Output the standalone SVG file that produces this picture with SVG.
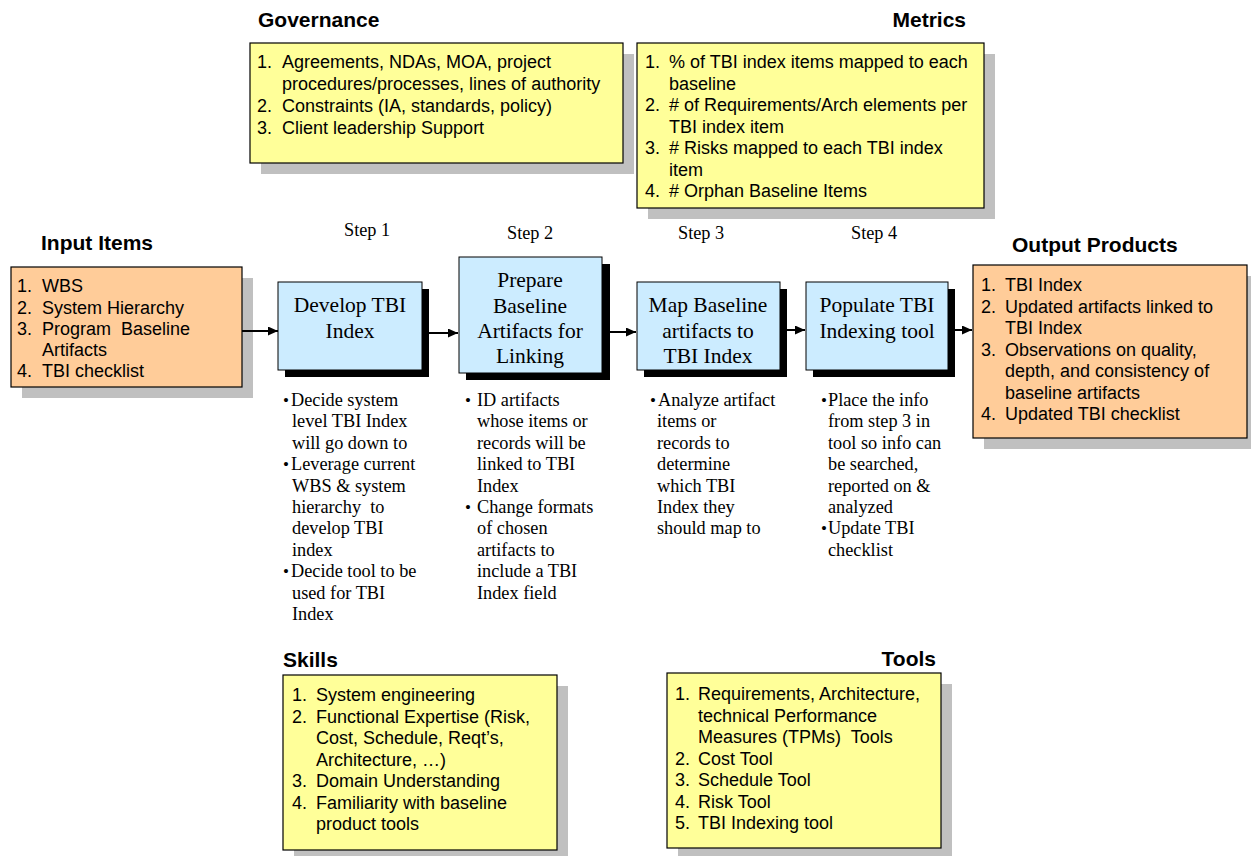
<svg xmlns="http://www.w3.org/2000/svg" width="1251" height="856" viewBox="0 0 1251 856">
<style>
.title{font-family:"Liberation Sans",Arial,sans-serif;font-weight:bold;font-size:21px;fill:#000}
.list{font-family:"Liberation Sans",Arial,sans-serif;font-size:18px;fill:#000}
.step{font-family:"Liberation Serif","Times New Roman",serif;font-size:21.5px;fill:#000;text-anchor:middle}
.lbl{font-family:"Liberation Serif","Times New Roman",serif;font-size:18.3px;fill:#000}
.bul{font-family:"Liberation Serif","Times New Roman",serif;font-size:17px;fill:#000}
.sh{fill:#c0c0c0}
.shb{fill:#000}
.yel{fill:#ffff99;stroke:#000;stroke-width:1.2}
.pea{fill:#ffcc99;stroke:#000;stroke-width:1.2}
.blu{fill:#ccecff;stroke:#000;stroke-width:1}
.con{stroke:#000;stroke-width:2;fill:none}
</style>
<defs>
<marker id="ah" markerWidth="10" markerHeight="9" refX="10" refY="4.5" orient="auto" markerUnits="userSpaceOnUse">
<path d="M0,0 L10,4.5 L0,9 Z" fill="#000"/>
</marker>
</defs>
<rect width="1251" height="856" fill="#fff"/>

<g id="governance">
<text class="title" x="258" y="27">Governance</text>
<rect class="sh" x="261" y="54" width="373" height="120"/>
<rect class="yel" x="250" y="43" width="373" height="120"/>
<text class="list" x="257" y="68">1.</text><text class="list" x="282" y="68">Agreements, NDAs, MOA, project</text>
<text class="list" x="282" y="90">procedures/processes, lines of authority</text>
<text class="list" x="257" y="112">2.</text><text class="list" x="282" y="112">Constraints (IA, standards, policy)</text>
<text class="list" x="257" y="134">3.</text><text class="list" x="282" y="134">Client leadership Support</text>
</g>

<g id="metrics">
<text class="title" x="966" y="27" text-anchor="end">Metrics</text>
<rect class="sh" x="648" y="54" width="347" height="165"/>
<rect class="yel" x="637" y="43" width="347" height="165"/>
<text class="list" x="645" y="68">1.</text><text class="list" x="669" y="68">% of TBI index items mapped to each</text>
<text class="list" x="669" y="89.5">baseline</text>
<text class="list" x="645" y="111">2.</text><text class="list" x="669" y="111"># of Requirements/Arch elements per</text>
<text class="list" x="669" y="132.5">TBI index item</text>
<text class="list" x="645" y="154">3.</text><text class="list" x="669" y="154"># Risks mapped to each TBI index</text>
<text class="list" x="669" y="175.5">item</text>
<text class="list" x="645" y="197">4.</text><text class="list" x="669" y="197"># Orphan Baseline Items</text>
</g>

<g id="input">
<text class="title" x="41" y="250">Input Items</text>
<rect class="sh" x="22" y="278" width="231" height="120"/>
<rect class="pea" x="11" y="267" width="231" height="120"/>
<text class="list" x="17" y="292">1.</text><text class="list" x="42" y="292">WBS</text>
<text class="list" x="17" y="313.5">2.</text><text class="list" x="42" y="313.5">System Hierarchy</text>
<text class="list" x="17" y="335">3.</text><text class="list" x="42" y="335" xml:space="preserve">Program  Baseline</text>
<text class="list" x="42" y="356">Artifacts</text>
<text class="list" x="17" y="377">4.</text><text class="list" x="42" y="377">TBI checklist</text>
</g>

<g id="output">
<text class="title" x="1012" y="252">Output Products</text>
<rect class="sh" x="984" y="276" width="274" height="173"/>
<rect class="pea" x="973" y="265" width="274" height="173"/>
<text class="list" x="981" y="291">1.</text><text class="list" x="1005" y="291">TBI Index</text>
<text class="list" x="981" y="312.5">2.</text><text class="list" x="1005" y="312.5">Updated artifacts linked to</text>
<text class="list" x="1005" y="334">TBI Index</text>
<text class="list" x="981" y="355.5">3.</text><text class="list" x="1005" y="355.5">Observations on quality,</text>
<text class="list" x="1005" y="377">depth, and consistency of</text>
<text class="list" x="1005" y="398.5">baseline artifacts</text>
<text class="list" x="981" y="420">4.</text><text class="list" x="1005" y="420">Updated TBI checklist</text>
</g>

<g id="step1">
<text class="lbl" x="344" y="236">Step 1</text>
<rect class="shb" x="285" y="289" width="144" height="88"/>
<rect class="blu" x="278" y="282" width="144" height="88"/>
<text class="step" x="350" y="312">Develop TBI</text>
<text class="step" x="350" y="338">Index</text>
<text class="bul" x="283" y="406">•</text>
<text class="lbl" x="291" y="406">Decide system</text>
<text class="lbl" x="292" y="427.4">level TBI Index</text>
<text class="lbl" x="292" y="448.8">will go down to</text>
<text class="bul" x="283" y="470.2">•</text>
<text class="lbl" x="291" y="470.2">Leverage current</text>
<text class="lbl" x="292" y="491.6">WBS &amp; system</text>
<text class="lbl" x="292" y="513" xml:space="preserve">hierarchy  to</text>
<text class="lbl" x="292" y="534.4">develop TBI</text>
<text class="lbl" x="292" y="555.8">index</text>
<text class="bul" x="283" y="577.2">•</text>
<text class="lbl" x="291" y="577.2">Decide tool to be</text>
<text class="lbl" x="292" y="598.6">used for TBI</text>
<text class="lbl" x="292" y="620">Index</text>
</g>

<g id="step2">
<text class="lbl" x="507" y="239">Step 2</text>
<rect class="shb" x="466" y="264" width="144" height="116"/>
<rect class="blu" x="459" y="257" width="143" height="116"/>
<text class="step" x="530" y="287">Prepare</text>
<text class="step" x="530" y="313">Baseline</text>
<text class="step" x="530" y="338">Artifacts for</text>
<text class="step" x="530" y="363">Linking</text>
<text class="bul" x="465" y="406">•</text>
<text class="lbl" x="477" y="406">ID artifacts</text>
<text class="lbl" x="477" y="427.4">whose items or</text>
<text class="lbl" x="477" y="448.8">records will be</text>
<text class="lbl" x="477" y="470.2">linked to TBI</text>
<text class="lbl" x="477" y="491.6">Index</text>
<text class="bul" x="465" y="513">•</text>
<text class="lbl" x="477" y="513">Change formats</text>
<text class="lbl" x="477" y="534.4">of chosen</text>
<text class="lbl" x="477" y="555.8">artifacts to</text>
<text class="lbl" x="477" y="577.2">include a TBI</text>
<text class="lbl" x="477" y="598.6">Index field</text>
</g>

<g id="step3">
<text class="lbl" x="678" y="239">Step 3</text>
<rect class="shb" x="644" y="289" width="143" height="88"/>
<rect class="blu" x="637" y="282" width="143" height="88"/>
<text class="step" x="708" y="312">Map Baseline</text>
<text class="step" x="708" y="338">artifacts to</text>
<text class="step" x="708" y="363">TBI Index</text>
<text class="bul" x="650" y="406">•</text>
<text class="lbl" x="658" y="406">Analyze artifact</text>
<text class="lbl" x="657" y="427.4">items or</text>
<text class="lbl" x="657" y="448.8">records to</text>
<text class="lbl" x="657" y="470.2">determine</text>
<text class="lbl" x="657" y="491.6">which TBI</text>
<text class="lbl" x="657" y="513">Index they</text>
<text class="lbl" x="657" y="534.4">should map to</text>
</g>

<g id="step4">
<text class="lbl" x="851" y="239">Step 4</text>
<rect class="shb" x="813" y="289" width="142" height="88"/>
<rect class="blu" x="806" y="282" width="142" height="88"/>
<text class="step" x="877" y="312">Populate TBI</text>
<text class="step" x="877" y="338">Indexing tool</text>
<text class="bul" x="821" y="406">•</text>
<text class="lbl" x="828" y="406">Place the info</text>
<text class="lbl" x="828" y="427.4">from step 3 in</text>
<text class="lbl" x="828" y="448.8">tool so info can</text>
<text class="lbl" x="828" y="470.2">be searched,</text>
<text class="lbl" x="828" y="491.6">reported on &amp;</text>
<text class="lbl" x="828" y="513">analyzed</text>
<text class="bul" x="821" y="534.4">•</text>
<text class="lbl" x="828" y="534.4">Update TBI</text>
<text class="lbl" x="828" y="555.8">checklist</text>
</g>

<g id="skills">
<text class="title" x="283" y="667">Skills</text>
<rect class="sh" x="294" y="686" width="274" height="175"/>
<rect class="yel" x="283" y="675" width="274" height="175"/>
<text class="list" x="292" y="701">1.</text><text class="list" x="316" y="701">System engineering</text>
<text class="list" x="292" y="722.5">2.</text><text class="list" x="316" y="722.5">Functional Expertise (Risk,</text>
<text class="list" x="316" y="744">Cost, Schedule, Reqt’s,</text>
<text class="list" x="316" y="765.5">Architecture, …)</text>
<text class="list" x="292" y="787">3.</text><text class="list" x="316" y="787">Domain Understanding</text>
<text class="list" x="292" y="808.5">4.</text><text class="list" x="316" y="808.5">Familiarity with baseline</text>
<text class="list" x="316" y="830">product tools</text>
</g>

<g id="tools">
<text class="title" x="936" y="666" text-anchor="end">Tools</text>
<rect class="sh" x="678" y="684" width="274" height="175"/>
<rect class="yel" x="667" y="673" width="274" height="175"/>
<text class="list" x="675" y="700">1.</text><text class="list" x="698" y="700">Requirements, Architecture,</text>
<text class="list" x="698" y="721.5">technical Performance</text>
<text class="list" x="698" y="743" xml:space="preserve">Measures (TPMs)  Tools</text>
<text class="list" x="675" y="764.5">2.</text><text class="list" x="698" y="764.5">Cost Tool</text>
<text class="list" x="675" y="786">3.</text><text class="list" x="698" y="786">Schedule Tool</text>
<text class="list" x="675" y="807.5">4.</text><text class="list" x="698" y="807.5">Risk Tool</text>
<text class="list" x="675" y="829">5.</text><text class="list" x="698" y="829">TBI Indexing tool</text>
</g>

<g id="connectors">
<line class="con" x1="242" y1="331" x2="278" y2="331" marker-end="url(#ah)"/>
<line class="con" x1="422" y1="333" x2="458" y2="333" marker-end="url(#ah)"/>
<line class="con" x1="602" y1="332" x2="636" y2="332" marker-end="url(#ah)"/>
<line class="con" x1="780" y1="330" x2="805" y2="330" marker-end="url(#ah)"/>
<line class="con" x1="948" y1="330" x2="972" y2="330" marker-end="url(#ah)"/>
</g>
</svg>
